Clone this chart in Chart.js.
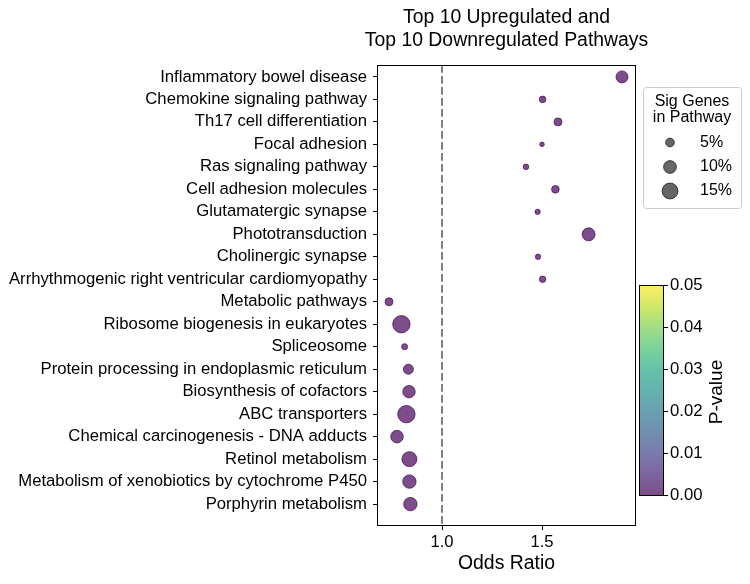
<!DOCTYPE html>
<html><head><meta charset="utf-8">
<script src="https://cdn.jsdelivr.net/npm/chart.js@4/dist/chart.umd.min.js"></script>
<style>html,body{margin:0;padding:0;background:#fff}#wrap{width:750px;height:584px}</style>
</head><body><div id="wrap"><canvas id="c" width="750" height="584"></canvas></div>
<script>
const pathways = [
  "Inflammatory bowel disease",
  "Chemokine signaling pathway",
  "Th17 cell differentiation",
  "Focal adhesion",
  "Ras signaling pathway",
  "Cell adhesion molecules",
  "Glutamatergic synapse",
  "Phototransduction",
  "Cholinergic synapse",
  "Arrhythmogenic right ventricular cardiomyopathy",
  "Metabolic pathways",
  "Ribosome biogenesis in eukaryotes",
  "Spliceosome",
  "Protein processing in endoplasmic reticulum",
  "Biosynthesis of cofactors",
  "ABC transporters",
  "Chemical carcinogenesis - DNA adducts",
  "Retinol metabolism",
  "Metabolism of xenobiotics by cytochrome P450",
  "Porphyrin metabolism"
];
const oddsRatios = [1.90, 1.503, 1.58, 1.50, 1.42, 1.567, 1.478, 1.733, 1.48, 1.503,
                    0.735, 0.797, 0.813, 0.832, 0.835, 0.822, 0.775, 0.837, 0.837, 0.842];
const sigGenesPct = [8.8, 3.0, 4.2, 1.6, 2.3, 3.9, 2.1, 10.2, 2.1, 2.9,
                     4.2, 17.6, 2.6, 6.3, 9.4, 17.6, 9.6, 13.3, 10.8, 10.8];
const pValues = [0.0002, 0.0004, 0.0003, 0.0005, 0.0006, 0.0004, 0.0006, 0.0001, 0.0006, 0.0005,
                 0.0003, 0.0001, 0.0005, 0.0002, 0.0001, 0.0001, 0.0002, 0.0001, 0.0001, 0.0001];
const xTickValues = [1.0, 1.5];
const legendPcts = [5, 10, 15];
const colorbarTicks = [0.00, 0.01, 0.02, 0.03, 0.04, 0.05];

const FONT = "'Liberation Sans', Arial, sans-serif";
const viridis = ["#440154","#482475","#414487","#355f8d","#2a788e","#21918c","#22a884","#44bf70","#7ad151","#bddf26","#fde725"];
function hex2rgb(h){return [parseInt(h.slice(1,3),16),parseInt(h.slice(3,5),16),parseInt(h.slice(5,7),16)];}
function viridisAt(t, a){
  t = Math.max(0, Math.min(1, t));
  const f = t*10, i = Math.min(9, Math.floor(f)), u = f - i;
  const c0 = hex2rgb(viridis[i]), c1 = hex2rgb(viridis[i+1]);
  const c = c0.map((v,k)=>Math.round(v + (c1[k]-v)*u));
  return `rgba(${c[0]},${c[1]},${c[2]},${a})`;
}
const radiusOf = p => 2.19*Math.sqrt(p);

const points = pathways.map((_, i) => ({x: oddsRatios[i], y: i}));

const decor = {
  id: 'decor',
  afterDraw(chart){
    const ctx = chart.ctx, a = chart.chartArea;
    ctx.save();
    // frame
    ctx.strokeStyle = '#000'; ctx.lineWidth = 1;
    ctx.strokeRect(Math.round(a.left)-0.5, Math.round(a.top)+0.5, Math.round(a.right-a.left)+1, Math.round(a.bottom-a.top));
    // title
    ctx.fillStyle = '#000';
    ctx.font = `19.4px ${FONT}`;
    ctx.textAlign = 'center'; ctx.textBaseline = 'middle';
    const cx = (a.left + a.right)/2;
    ctx.fillText('Top 10 Upregulated and', cx, 18);
    ctx.fillText('Top 10 Downregulated Pathways', cx, 41);
    // size legend
    const lx = 643, ly = 87, lw = 98, lh = 121;
    ctx.beginPath();
    ctx.roundRect(lx+0.5, ly+0.5, lw, lh, 3);
    ctx.fillStyle = 'rgba(255,255,255,0.8)'; ctx.fill();
    ctx.strokeStyle = '#cccccc'; ctx.stroke();
    ctx.fillStyle = '#000';
    ctx.font = `16px ${FONT}`;
    ctx.textAlign = 'center';
    ctx.fillText('Sig Genes', 692, 102);
    ctx.fillText('in Pathway', 692, 117.5);
    const rowsY = [142.5, 167, 191];
    legendPcts.forEach((p, k) => {
      const r = radiusOf(p) - 0.5;
      ctx.beginPath(); ctx.arc(670, rowsY[k], r, 0, Math.PI*2);
      ctx.fillStyle = 'rgba(0,0,0,0.6)'; ctx.fill();
      ctx.strokeStyle = 'rgba(0,0,0,0.6)'; ctx.lineWidth = 1; ctx.stroke();
      ctx.fillStyle = '#000'; ctx.textAlign = 'left';
      ctx.fillText(p + '%', 700, rowsY[k]);
    });
    // colorbar
    const bx = 639, bw = 24, by = 285, bh = 210;
    ctx.fillStyle = '#fff'; ctx.fillRect(bx, by, bw, bh);
    const g = ctx.createLinearGradient(0, by+bh, 0, by);
    for (let k = 0; k <= 20; k++) g.addColorStop(k/20, viridisAt(k/20, 0.7));
    ctx.fillStyle = g; ctx.fillRect(bx, by, bw, bh);
    ctx.strokeStyle = '#000'; ctx.lineWidth = 1;
    ctx.strokeRect(bx+0.5, by+0.5, bw, bh);
    ctx.font = `16.7px ${FONT}`; ctx.textAlign = 'left'; ctx.textBaseline = 'middle';
    colorbarTicks.forEach(v => {
      const y = by + bh - (v/0.05)*bh;
      ctx.beginPath(); ctx.moveTo(bx+bw+0.5, Math.round(y)+0.5); ctx.lineTo(bx+bw+5, Math.round(y)+0.5); ctx.stroke();
      ctx.fillStyle = '#000';
      ctx.fillText(v.toFixed(2), bx+bw+7, y);
    });
    ctx.save();
    ctx.translate(717, 392);
    ctx.rotate(-Math.PI/2);
    ctx.textAlign = 'center'; ctx.textBaseline = 'middle';
    ctx.font = `19px ${FONT}`;
    ctx.fillText('P-value', 0, 0);
    ctx.restore();
    ctx.restore();
  }
};

new Chart(document.getElementById('c'), {
  type: 'scatter',
  data: {
    datasets: [
      {
        label: 'ref',
        type: 'line',
        data: [{x: 1.0, y: -0.53}, {x: 1.0, y: 19.93}],
        borderColor: '#808080',
        borderWidth: 2,
        borderDash: [7.7, 3.3],
        pointRadius: 0,
        fill: false
      },
      {
        label: 'pathways',
        data: points,
        pointRadius: sigGenesPct.map(p => radiusOf(p) - 0.5),
        pointHoverRadius: sigGenesPct.map(p => radiusOf(p) - 0.5),
        backgroundColor: pValues.map(p => viridisAt(p/0.05, 0.7)),
        borderColor: pValues.map(p => viridisAt(p/0.05, 0.7)),
        borderWidth: 1
      }
    ]
  },
  options: {
    responsive: false,
    devicePixelRatio: 1,
    animation: false,
    layout: {padding: {left: 0, right: 115, top: 65, bottom: 0}},
    plugins: {legend: {display: false}, tooltip: {enabled: false}, title: {display: false}},
    scales: {
      x: {
        type: 'linear',
        min: 0.68, max: 1.965,
        afterBuildTicks: s => { s.ticks = xTickValues.map(v => ({value: v})); },
        afterFit: s => { s.height = 59; },
        ticks: {callback: v => v.toFixed(1), color: '#000', font: {family: FONT, size: 16.7}, padding: 2, maxRotation: 0},
        grid: {drawOnChartArea: false, drawTicks: true, tickLength: 5, color: '#000'},
        border: {display: false},
        title: {display: true, text: 'Odds Ratio', color: '#000', font: {family: FONT, size: 19.4}, padding: {top: 0, bottom: 9}}
      },
      y: {
        type: 'linear',
        reverse: true,
        min: -0.53, max: 19.93,
        afterBuildTicks: s => { s.ticks = pathways.map((_, i) => ({value: i})); },
        afterFit: s => { s.width = 378; },
        ticks: {callback: v => pathways[v], color: '#000', font: {family: FONT, size: 16.7}, padding: 6, autoSkip: false},
        grid: {drawOnChartArea: false, drawTicks: true, tickLength: 5, color: '#000'},
        border: {display: false}
      }
    }
  },
  plugins: [decor]
});
</script>
</body></html>
